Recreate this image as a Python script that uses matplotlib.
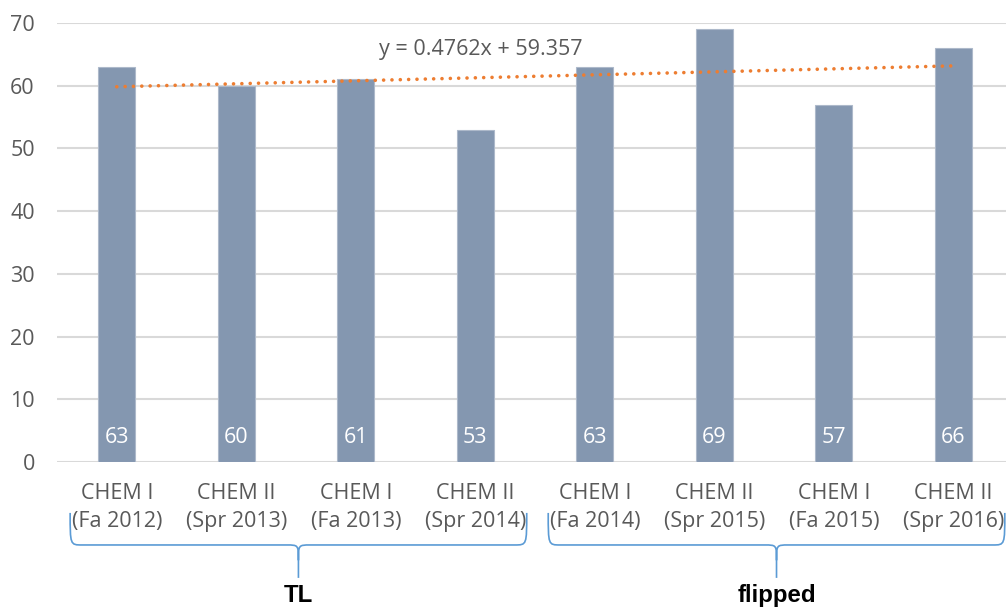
import numpy as np
import matplotlib.pyplot as plt
from matplotlib.path import Path
from matplotlib.patches import PathPatch
from matplotlib.transforms import blended_transform_factory

# datos
cursos = ['CHEM I\n(Fa 2012)', 'CHEM II\n(Spr 2013)', 'CHEM I\n(Fa 2013)', 'CHEM II\n(Spr 2014)',
          'CHEM I\n(Fa 2014)', 'CHEM II\n(Spr 2015)', 'CHEM I\n(Fa 2015)', 'CHEM II\n(Spr 2016)']
valores = [63, 60, 61, 53, 63, 69, 57, 66]
grupos = ['TL', 'flipped']
grupo_idx = [(0, 3), (4, 7)]
pendiente = 0.4762
intercepto = 59.357

gris = '#595959'
fs = 15.5
plt.rcParams['font.family'] = ['Open Sans', 'DejaVu Sans']

fig = plt.figure(figsize=(10.06, 6.07), dpi=100)
ax = fig.add_axes([57 / 1006, 145 / 607, 949 / 1006, 439 / 607])

x = np.arange(len(valores))
ax.bar(x, valores, width=0.31, color='#8497B0', edgecolor='#ADB9CA', linewidth=0.8, zorder=2)

# linea de tendencia (Excel usa x = 1..n)
xt = x + 1
ax.plot(x, pendiente * xt + intercepto, color='#ED7D31', lw=2.6,
        linestyle=(0, (0.01, 2.3)), dash_capstyle='round', zorder=3)
ax.text(3.05, 65.7, 'y = 0.4762x + 59.357', fontsize=fs, color=gris, ha='center', va='center')

for xi, v in zip(x, valores):
    ax.text(xi, 3.9, str(v), color='white', fontsize=fs, ha='center', va='center', zorder=4)

ax.set_xlim(-0.5, 7.44)
ax.set_ylim(0, 70)
ax.set_yticks(range(0, 71, 10))
ax.yaxis.grid(True, color='#D9D9D9', lw=1.5, zorder=0)
ax.set_axisbelow(True)
for s in ax.spines.values():
    s.set_visible(False)
ax.tick_params(axis='both', length=0, labelsize=fs, labelcolor=gris)
ax.tick_params(axis='x', pad=15)
ax.tick_params(axis='y', pad=16)
ax.set_xticks(x)
ax.set_xticklabels(cursos, linespacing=1.45)

# llaves debajo de las etiquetas
tr = blended_transform_factory(ax.transData, ax.transAxes)
y_top, y_mid, y_bot = -0.116, -0.189, -0.264
dx, dy = 0.1, 0.035

def llave(xa, xb):
    xc = (xa + xb) / 2
    verts = [(xa, y_top), (xa, y_mid), (xa, y_mid), (xa + dx, y_mid),
             (xc - dx, y_mid),
             (xc, y_mid), (xc, y_mid), (xc, y_mid - dy),
             (xc, y_bot),
             (xb, y_top), (xb, y_mid), (xb, y_mid), (xb - dx, y_mid),
             (xc + dx, y_mid),
             (xc, y_mid), (xc, y_mid), (xc, y_mid - dy)]
    codes = [Path.MOVETO, Path.CURVE4, Path.CURVE4, Path.CURVE4,
             Path.LINETO,
             Path.CURVE4, Path.CURVE4, Path.CURVE4,
             Path.LINETO,
             Path.MOVETO, Path.CURVE4, Path.CURVE4, Path.CURVE4,
             Path.LINETO,
             Path.CURVE4, Path.CURVE4, Path.CURVE4]
    p = PathPatch(Path(verts, codes), transform=tr, fill=False, edgecolor='#5B9BD5',
                  lw=1.2, clip_on=False)
    ax.add_patch(p)
    return xc

for nombre, (i0, i1) in zip(grupos, grupo_idx):
    xc = llave(i0 - 0.39, i1 + 0.43)
    ax.text(xc, -0.305, nombre, transform=tr, ha='center', va='center', fontsize=17.3,
            fontweight='bold', family='Liberation Sans', color='black')

fig.savefig('out.png', dpi=100)
